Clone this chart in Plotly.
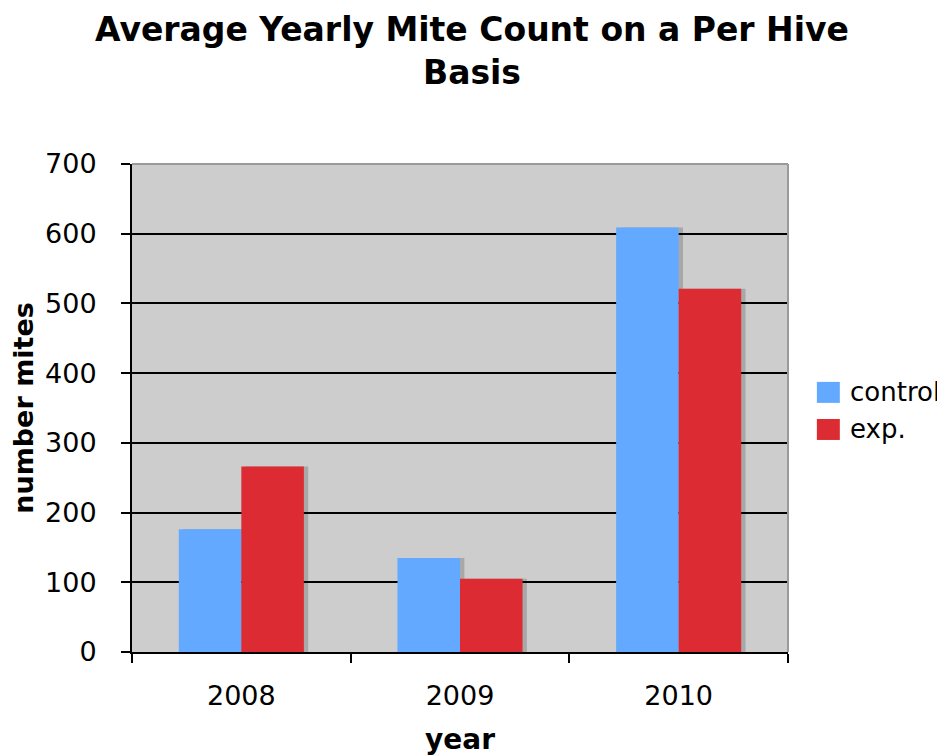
import plotly.graph_objects as go

years = ["2008", "2009", "2010"]
series_names = ["control", "exp."]
control = [176, 135, 609]
exp_vals = [266, 105, 521]
y_ticks = [0, 100, 200, 300, 400, 500, 600, 700]

BLUE = "#63A9FF"
RED = "#DC2B32"
SHADOW = "rgba(0,0,0,0.18)"
W = 0.286
SH = 0.02

fig = go.Figure()
fig.add_trace(go.Bar(x=years, y=control, offset=-W + SH, width=W, marker=dict(color=SHADOW, line=dict(width=0)),
                     showlegend=False, hoverinfo="skip"))
fig.add_trace(go.Bar(x=years, y=control, offset=-W, width=W, name=series_names[0],
                     marker=dict(color=BLUE, line=dict(width=0)), showlegend=False))
fig.add_trace(go.Bar(x=years, y=exp_vals, offset=SH, width=W, marker=dict(color=SHADOW, line=dict(width=0)),
                     showlegend=False, hoverinfo="skip"))
fig.add_trace(go.Bar(x=years, y=exp_vals, offset=0, width=W, name=series_names[1],
                     marker=dict(color=RED, line=dict(width=0)), showlegend=False))

FONT = "DejaVu Sans, Verdana, sans-serif"

# manual legend (larger swatches than plotly's built-in legend allows)
shapes = [
    dict(type="line", xref="paper", yref="paper", x0=0, x1=1, y0=1, y1=1,
         line=dict(color="#9A9A9A", width=2)),
    dict(type="line", xref="paper", yref="paper", x0=1, x1=1, y0=0, y1=1,
         line=dict(color="#9A9A9A", width=2)),
]
annotations = []
leg_colors = [BLUE, RED]
leg_y = [0.532, 0.456]
for name, col, yc in zip(series_names, leg_colors, leg_y):
    shapes.append(dict(type="rect", xref="paper", yref="paper",
                       x0=1.044, x1=1.079, y0=yc - 0.0215, y1=yc + 0.0215,
                       fillcolor=col, line=dict(width=0)))
    annotations.append(dict(text=name, xref="paper", yref="paper", x=1.091, y=yc,
                            xanchor="left", yanchor="middle", showarrow=False,
                            font=dict(family=FONT, size=26, color="black")))

# the page body has an 8px margin, so the figure is drawn 8px smaller
fig.update_layout(
    width=937, height=748,
    barmode="overlay",
    paper_bgcolor="white",
    plot_bgcolor="#CDCDCD",
    margin=dict(l=124, r=157, t=156, b=104),
    font=dict(family=FONT, color="black", size=27),
    title=dict(text="<b>Average Yearly Mite Count on a Per Hive<br>Basis</b>",
               x=0.4952, xanchor="center", y=0.956, yanchor="top",
               font=dict(family=FONT, size=33, color="black")),
    showlegend=False,
    xaxis=dict(
        type="category",
        automargin=False,
        showgrid=False,
        showline=True, linecolor="black", linewidth=2,
        ticks="outside", tickson="boundaries", ticklen=9, tickcolor="black", tickwidth=2,
        ticklabelstandoff=19,
        tickfont=dict(family=FONT, size=27),
        title=dict(text="<b>year</b>", font=dict(family=FONT, size=28), standoff=23),
    ),
    yaxis=dict(
        automargin=False,
        range=[0, 700],
        tickvals=y_ticks,
        showgrid=True, gridcolor="black", gridwidth=1.5,
        zeroline=False,
        showline=True, linecolor="black", linewidth=2,
        ticks="outside", ticklen=9, tickcolor="black", tickwidth=2,
        ticklabelstandoff=19,
        tickfont=dict(family=FONT, size=27),
        title=dict(text="<b>number mites</b>", font=dict(family=FONT, size=27), standoff=15),
    ),
    shapes=shapes,
    annotations=annotations,
)

fig.write_html("out.html")
